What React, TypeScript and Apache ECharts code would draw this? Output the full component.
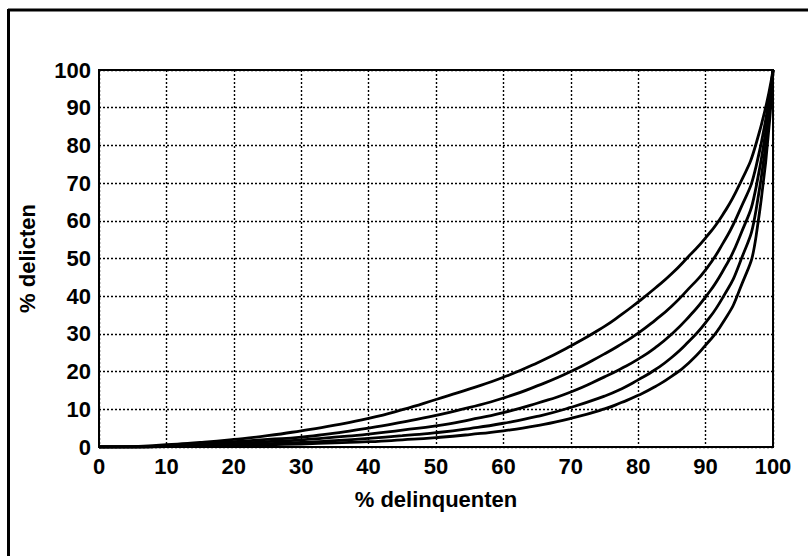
import React, { useEffect, useRef } from "react";
import * as echarts from "echarts";

const xValues = [0, 5, 10, 15, 20, 25, 30, 35, 40, 45, 50, 55, 60, 65, 70, 75, 77.5, 80, 82.5, 85, 87.5, 90, 92.5, 95, 97.5, 100];
const curve1 = [0, 0.1, 0.6, 1.2, 2, 3, 4.3, 5.8, 7.6, 9.9, 12.6, 15.4, 18.5, 22.3, 26.8, 32, 35.1, 38.5, 42.1, 46, 50.6, 55.5, 61.5, 69.5, 80.5, 100];
const curve2 = [0, 0, 0.3, 0.8, 1.4, 2, 2.6, 3.7, 5, 6.6, 8.4, 10.5, 13, 16.2, 20, 24.7, 27.3, 30.2, 33.6, 37.4, 42, 47, 53.8, 62.5, 74.5, 100];
const curve3 = [0, 0, 0.2, 0.5, 0.9, 1.4, 1.9, 2.6, 3.4, 4.5, 5.6, 7.2, 9.1, 11.6, 14.6, 18.6, 20.8, 23.3, 26.3, 30, 34.5, 39.8, 46.5, 55.5, 69, 100];
const curve4 = [0, 0, 0.1, 0.3, 0.6, 0.9, 1.2, 1.7, 2.3, 3, 3.8, 4.9, 6.3, 8.1, 10.5, 13.5, 15.4, 17.8, 20.5, 23.8, 28, 33, 39.5, 48.5, 63, 100];
const curve5 = [0, 0, 0.1, 0.2, 0.4, 0.6, 0.8, 1.1, 1.4, 1.9, 2.5, 3.3, 4.3, 5.7, 7.6, 10.1, 11.8, 13.7, 16, 18.8, 22.3, 27, 32.8, 41.5, 56, 100];
const curves = [curve1, curve2, curve3, curve4, curve5];

const xTitle = "% delinquenten";
const yTitle = "% delicten";

const FONT = "'Liberation Sans', Arial, sans-serif";

export default function App() {
  const ref = useRef<HTMLDivElement>(null);
  useEffect(() => {
    if (!ref.current) return;
    const chart = echarts.init(ref.current, undefined, { renderer: "svg" });
    const axisCommon = {
      type: "value" as const,
      min: 0,
      max: 100,
      interval: 10,
      axisLine: { show: true, lineStyle: { color: "#000", width: 2 } },
      axisTick: { show: false },
      splitLine: { show: true, lineStyle: { color: "#000", width: 1.4, type: [2, 2] as any } },
      axisLabel: { color: "#000", fontSize: 22, fontWeight: "bold" as const, fontFamily: FONT },
      nameTextStyle: { color: "#000", fontSize: 22, fontWeight: "bold" as const, fontFamily: FONT },
    };
    chart.setOption({
      animation: false,
      backgroundColor: "#fff",
      grid: { left: 99, right: 35, top: 70, bottom: 109, show: true, borderColor: "#000", borderWidth: 2, containLabel: false },
      xAxis: {
        ...axisCommon,
        name: xTitle,
        nameLocation: "middle",
        nameGap: 41,
        axisLabel: { ...axisCommon.axisLabel, margin: 8 },
      },
      yAxis: {
        ...axisCommon,
        name: yTitle,
        nameLocation: "middle",
        nameGap: 61,
        nameRotate: 90,
        axisLabel: { ...axisCommon.axisLabel, margin: 8 },
      },
      graphic: [
        { type: "line", shape: { x1: 8, y1: 10, x2: 808, y2: 10 }, style: { stroke: "#000", lineWidth: 3 } },
        { type: "line", shape: { x1: 8.5, y1: 9, x2: 8.5, y2: 556 }, style: { stroke: "#000", lineWidth: 3 } },
      ],
      series: curves.map((c) => ({
        type: "line",
        smooth: 0.55,
        symbol: "none",
        lineStyle: { color: "#000", width: 2.8 },
        data: xValues.map((x, i) => [x, c[i]]),
      })),
    });
    return () => chart.dispose();
  }, []);
  return <div ref={ref} style={{ position: "fixed", left: 0, top: 0, width: 808, height: 556, background: "#fff" }} />;
}
